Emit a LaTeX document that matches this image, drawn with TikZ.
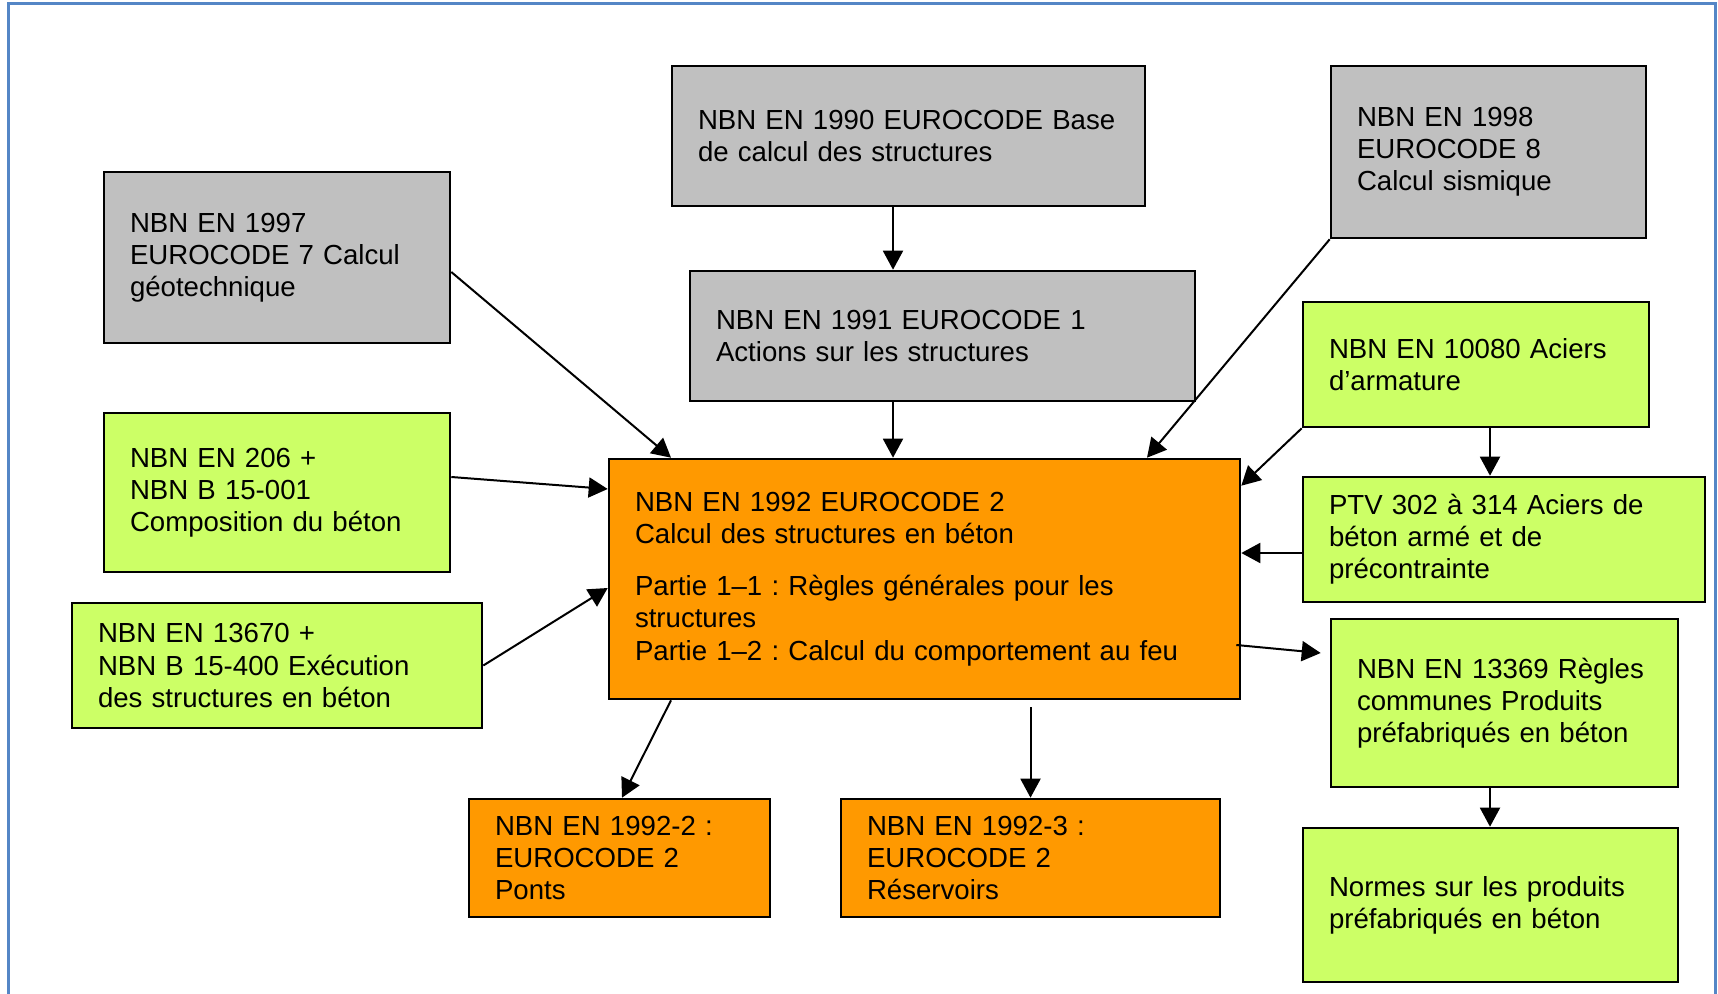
\documentclass[tikz,border=0pt]{standalone}
\usepackage{fontspec}
\setmainfont{Liberation Sans}
\usetikzlibrary{arrows.meta}
\frenchspacing

\definecolor{grisbox}{RGB}{192,192,192}
\definecolor{vertbox}{RGB}{204,255,102}
\definecolor{orangebox}{RGB}{255,153,0}
\definecolor{cadrebleu}{RGB}{84,134,198}

\begin{document}
\begin{tikzpicture}[x=0.5pt,y=-0.5pt,
    box/.style={draw=black, line width=1.3pt, align=left, inner xsep=13pt, inner ysep=0pt,
                font=\fontsize{13.8}{16.1}\selectfont},
    gris/.style={box, fill=grisbox},
    vert/.style={box, fill=vertbox},
    orng/.style={box, fill=orangebox},
    fleche/.style={-{Triangle[length=9.5pt,width=10pt]}, line width=1pt}]

    \useasboundingbox (0,0) rectangle (1718,994);

    % cadre
    \draw[cadrebleu, line width=1.5pt] (8,1010) -- (8,4) -- (1715,4) -- (1715,1010);

    % Eurocodes (gris)
    \node[gris, text width=210.5pt, minimum height=70pt] (ec0) at (908.5,136)
        {\mbox{NBN EN 1990 EUROCODE Base}\\de calcul des structures};
    \node[gris, text width=226.5pt, minimum height=65pt] (ec1) at (942.5,336)
        {NBN EN 1991 EUROCODE 1\\Actions sur les structures};
    \node[gris, text width=147pt, minimum height=85.5pt] (ec7) at (277,257.5)
        {NBN EN 1997\\EUROCODE 7 Calcul\\géotechnique};
    \node[gris, text width=131.5pt, minimum height=86pt] (ec8) at (1488.5,152)
        {NBN EN 1998\\EUROCODE 8\\Calcul sismique};

    % Eurocode 2 (orange)
    \node[orng, text width=289.5pt, minimum height=120pt] (ec2) at (924.5,579)
        {NBN EN 1992 EUROCODE 2\\Calcul des structures en béton\\[10pt]
         Partie 1–1 : Règles générales pour les\\structures\\
         Partie 1–2 : Calcul du comportement au feu};
    \node[orng, text width=124.5pt, minimum height=59pt] (ec22) at (619.5,858)
        {NBN EN 1992-2 :\\EUROCODE 2\\Ponts};
    \node[orng, text width=163.5pt, minimum height=59pt] (ec23) at (1030.5,858)
        {NBN EN 1992-3 :\\EUROCODE 2\\Réservoirs};

    % normes produits (vert)
    \node[vert, text width=147pt, minimum height=79.5pt] (en206) at (277,492.5)
        {NBN EN 206 +\\NBN B 15-001\\Composition du béton};
    \node[vert, text width=179pt, minimum height=62.5pt] (en13670) at (277,665.5)
        {NBN EN 13670 +\\NBN B 15-400 Exécution\\des structures en béton};
    \node[vert, text width=147pt, minimum height=62.5pt] (en10080) at (1476,364.5)
        {NBN EN 10080 Aciers\\d’armature};
    \node[vert, text width=175pt, minimum height=62.5pt] (ptv) at (1504,539.5)
        {PTV 302 à 314 Aciers de\\béton armé et de\\précontrainte};
    \node[vert, text width=147.5pt, minimum height=84pt] (en13369) at (1504.5,703)
        {NBN EN 13369 Règles\\communes Produits\\préfabriqués en béton};
    \node[vert, text width=161.5pt, minimum height=77pt] (normes) at (1490.5,905)
        {Normes sur les produits\\préfabriqués en béton};

    % flèches
    \coordinate (colA) at (893,0);
    \coordinate (colB) at (1490,0);
    \draw[fleche] (ec0.south -| colA) -- (ec1.north -| colA);
    \draw[fleche] (ec1.south -| colA) -- (ec2.north -| colA);
    \draw[fleche] ([yshift=-7.25pt]ec7.east) -- ([xshift=-126.75pt]ec2.north);
    \draw[fleche] (ec8.south west) -- ([xshift=111.25pt]ec2.north);
    \draw[fleche] (en10080.south west) -- ([yshift=-14pt]ec2.north east);
    \draw[fleche] (en10080.south -| colB) -- (ptv.north -| colB);
    \draw[fleche] ([yshift=-6.75pt]ptv.west) -- ([yshift=-6.75pt]ptv.west -| ec2.east);
    \draw[fleche] ([xshift=-2.5pt,yshift=-33pt]ec2.east) -- ([xshift=-4.5pt,yshift=25pt]en13369.west);
    \draw[fleche] (en13369.south -| colB) -- (normes.north -| colB);
    \draw[fleche] ([yshift=7.75pt]en206.east) -- ([yshift=45pt]ec2.west);
    \draw[fleche] (en13670.east) -- ([yshift=-4.5pt]ec2.west);
    \draw[fleche] ([xshift=-126.75pt]ec2.south) -- ([xshift=1.25pt]ec22.north);
    \draw[fleche] ([yshift=-3.5pt]ec23.north |- ec2.south) -- (ec23.north);

\end{tikzpicture}
\end{document}
